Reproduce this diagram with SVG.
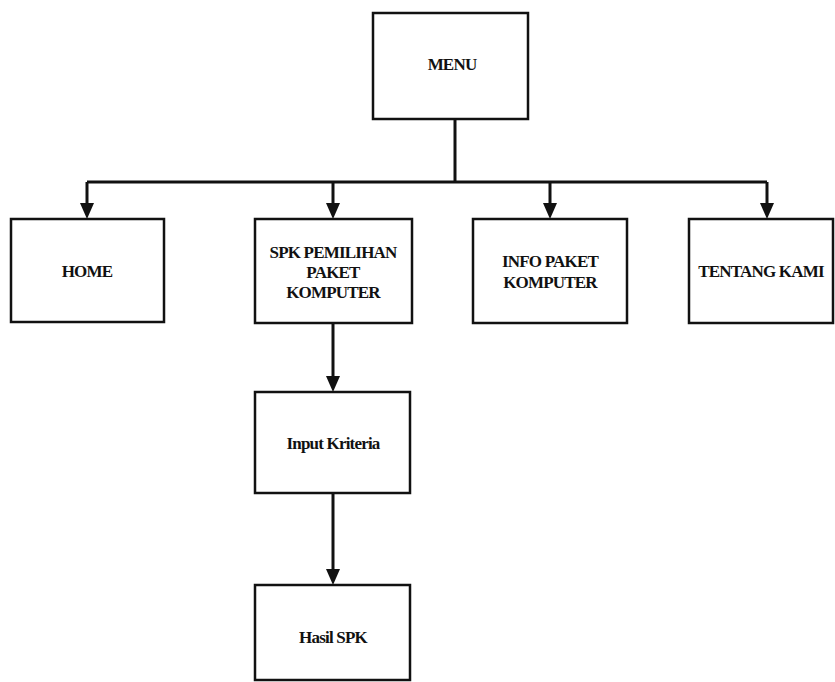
<svg xmlns="http://www.w3.org/2000/svg" width="835" height="682" viewBox="0 0 835 682">
  <style>
    .box { fill: #ffffff; stroke: #111111; stroke-width: 2.5; }
    .lbl { font-family: "Liberation Serif", "Times New Roman", serif; font-weight: bold; font-size: 17px; letter-spacing: -0.8px; fill: #111111; text-anchor: middle; }
    .wire { fill: none; stroke: #111111; stroke-width: 3; }
  </style>
  <defs>
    <!-- arrowhead drawn along +x; refX sits just inside the base so the tip lands 15px past the line end -->
    <marker id="arrow" markerUnits="userSpaceOnUse" markerWidth="16" markerHeight="16" refX="1" refY="8" orient="auto" viewBox="0 0 16 16">
      <path d="M0,1 L16,8 L0,15 Z" fill="#111111"/>
    </marker>
  </defs>
  <rect width="835" height="682" fill="#ffffff"/>

  <g id="connectors">
    <path class="wire" d="M455,119 V182"/>
    <path class="wire" d="M87,182 H767"/>
    <line class="wire" x1="87" y1="182" x2="87" y2="204" marker-end="url(#arrow)"/>
    <line class="wire" x1="333" y1="182" x2="333" y2="204" marker-end="url(#arrow)"/>
    <line class="wire" x1="550" y1="182" x2="550" y2="204" marker-end="url(#arrow)"/>
    <line class="wire" x1="767" y1="182" x2="767" y2="204" marker-end="url(#arrow)"/>
    <line class="wire" x1="333" y1="323" x2="333" y2="377" marker-end="url(#arrow)"/>
    <line class="wire" x1="333" y1="493" x2="333" y2="570" marker-end="url(#arrow)"/>
  </g>

  <g id="menu">
    <rect class="box" x="373" y="13" width="155" height="106"/>
    <text class="lbl" x="452" y="70">MENU</text>
  </g>
  <g id="home">
    <rect class="box" x="11" y="219" width="153" height="103"/>
    <text class="lbl" x="87" y="277">HOME</text>
  </g>
  <g id="spk-pemilihan">
    <rect class="box" x="255" y="219" width="157" height="104"/>
    <text class="lbl" x="333" y="258">SPK PEMILIHAN</text>
    <text class="lbl" x="333" y="278">PAKET</text>
    <text class="lbl" x="333" y="298">KOMPUTER</text>
  </g>
  <g id="info-paket">
    <rect class="box" x="473" y="219" width="154" height="104"/>
    <text class="lbl" x="550" y="267">INFO PAKET</text>
    <text class="lbl" x="550" y="288">KOMPUTER</text>
  </g>
  <g id="tentang-kami">
    <rect class="box" x="689" y="219" width="144" height="104"/>
    <text class="lbl" x="761" y="277">TENTANG KAMI</text>
  </g>
  <g id="input-kriteria">
    <rect class="box" x="255" y="392" width="155" height="101"/>
    <text class="lbl" x="333" y="449">Input Kriteria</text>
  </g>
  <g id="hasil-spk">
    <rect class="box" x="255" y="585" width="155" height="95"/>
    <text class="lbl" x="333" y="643">Hasil SPK</text>
  </g>
</svg>
